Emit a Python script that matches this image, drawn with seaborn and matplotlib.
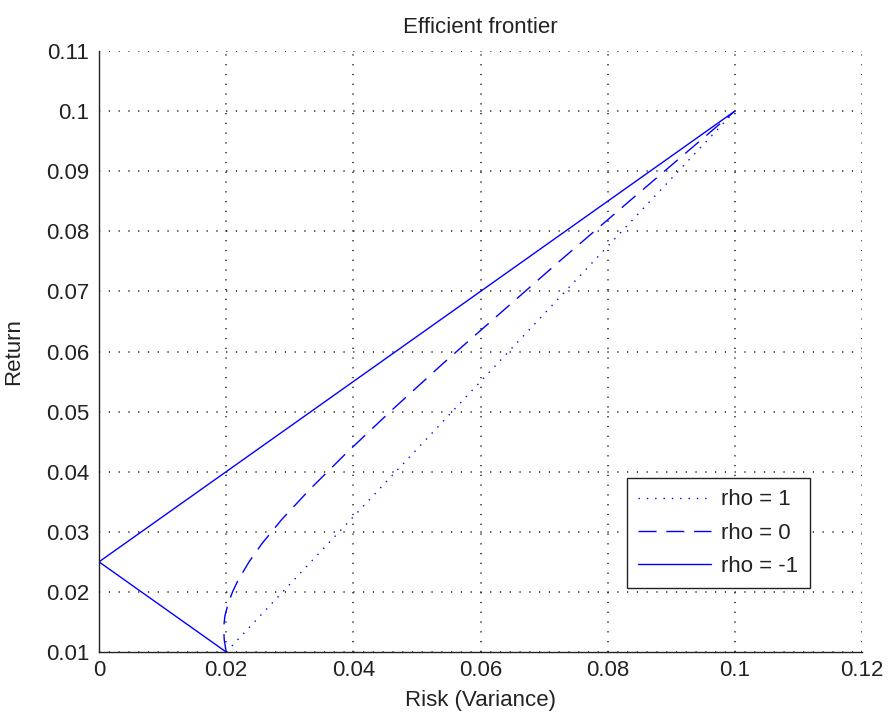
import matplotlib
matplotlib.use("Agg")
import matplotlib.pyplot as plt
import seaborn as sns
import pandas as pd

# ---- data ----
rho1_risk = [0.02, 0.10]
rho1_ret = [0.01, 0.10]

rho0_risk = [0.0200, 0.0197, 0.0196, 0.0198, 0.0203, 0.0210, 0.0219, 0.0236,
             0.0256, 0.0287, 0.0331, 0.0388, 0.0458, 0.0541, 0.0627, 0.0724,
             0.0834, 0.1000]
rho0_ret = [0.010, 0.012, 0.014, 0.016, 0.018, 0.020, 0.022, 0.025,
            0.028, 0.032, 0.037, 0.043, 0.050, 0.058, 0.066, 0.075,
            0.085, 0.100]

rhom1_risk = [0.02, 0.0, 0.10]
rhom1_ret = [0.01, 0.025, 0.10]

series_labels = ["rho = 1", "rho = 0", "rho = -1"]

x_ticks = [0, 0.02, 0.04, 0.06, 0.08, 0.10, 0.12]
x_tick_labels = ["0", "0.02", "0.04", "0.06", "0.08", "0.1", "0.12"]
y_ticks = [0.01, 0.02, 0.03, 0.04, 0.05, 0.06, 0.07, 0.08, 0.09, 0.10, 0.11]
y_tick_labels = ["0.01", "0.02", "0.03", "0.04", "0.05", "0.06", "0.07",
                 "0.08", "0.09", "0.1", "0.11"]

title_text = "Efficient frontier"
x_label = "Risk (Variance)"
y_label = "Return"

# ---- styling ----
sns.set_style("white")
plt.rcParams["font.family"] = ["Liberation Sans", "DejaVu Sans"]
FS = 16

fig = plt.figure(figsize=(8.88, 7.19), dpi=100)
ax = fig.add_axes([99 / 888, 1 - 652 / 719, (862 - 99) / 888, (652 - 51) / 719])

blue = "#0000ff"
df1 = pd.DataFrame({"x": rho1_risk, "y": rho1_ret})
df0 = pd.DataFrame({"x": rho0_risk, "y": rho0_ret})
dfm = pd.DataFrame({"x": rhom1_risk, "y": rhom1_ret})

sns.lineplot(data=df1, x="x", y="y", ax=ax, sort=False, estimator=None,
             color=blue, lw=1.0, linestyle=(0, (1, 5)), label=series_labels[0])
sns.lineplot(data=df0, x="x", y="y", ax=ax, sort=False, estimator=None,
             color=blue, lw=1.0, linestyle=(0, (13, 7)), label=series_labels[1])
sns.lineplot(data=dfm, x="x", y="y", ax=ax, sort=False, estimator=None,
             color=blue, lw=1.0, linestyle="-", label=series_labels[2])

ax.set_xlim(0, 0.12)
ax.set_ylim(0.01, 0.11)
ax.set_xticks(x_ticks)
ax.set_xticklabels(x_tick_labels)
ax.set_yticks(y_ticks)
ax.set_yticklabels(y_tick_labels)

ax.grid(True, color="0.1", linestyle=(0, (0.8, 5.6)), lw=1.1)
ax.set_axisbelow(True)

for side in ["top", "right"]:
    ax.spines[side].set_visible(False)
for side in ["left", "bottom"]:
    ax.spines[side].set_color("#222222")
    ax.spines[side].set_linewidth(1.0)

ax.tick_params(axis="both", direction="in", length=7, width=1.0,
               colors="#222222", labelsize=FS, labelcolor="#222222")
ax.tick_params(axis="y", pad=7)
ax.tick_params(axis="x", pad=6)

ax.set_title(title_text, fontsize=FS, color="#222222", pad=13)
ax.set_xlabel(x_label, fontsize=FS, color="#222222")
ax.set_ylabel(y_label, fontsize=FS, color="#222222")
ax.xaxis.set_label_coords(0.5, -0.064)
ax.yaxis.set_label_coords(-0.098, 0.5)

leg = ax.legend(loc="lower left", bbox_to_anchor=((627 - 99) / 763, (652 - 588) / 601),
                fontsize=FS, frameon=True, fancybox=False, handlelength=3.3,
                handletextpad=0.45, labelspacing=0.55, borderpad=0.5,
                borderaxespad=0)
leg.get_frame().set_edgecolor("#222222")
leg.get_frame().set_linewidth(1.0)
leg.get_frame().set_facecolor("white")
leg.get_frame().set_alpha(1)
for t in leg.get_texts():
    t.set_color("#222222")

fig.savefig("out.png", dpi=100, facecolor="white")
